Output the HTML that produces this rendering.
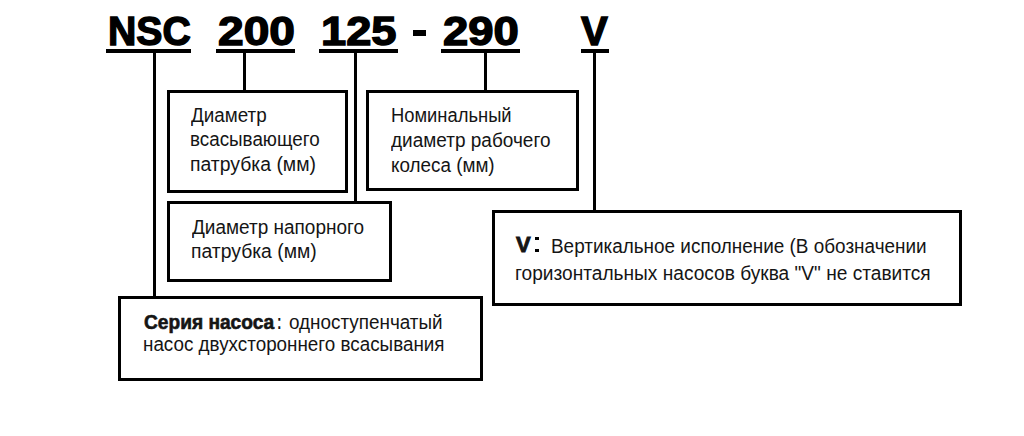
<!DOCTYPE html>
<html><head><meta charset="utf-8"><style>
html,body{margin:0;padding:0;background:#fff;}
body{width:1024px;height:436px;position:relative;overflow:hidden;font-family:"Liberation Sans",sans-serif;}
.t{position:absolute;white-space:nowrap;transform-origin:0 0;}
.r{position:absolute;background:#000;}
.b{position:absolute;box-sizing:border-box;border:3px solid #000;}
</style></head><body>
<div class="b" style="left:167px;top:90px;width:181px;height:103px;border-width:3px"></div>
<div class="b" style="left:366px;top:90px;width:213px;height:101px;border-width:3px"></div>
<div class="b" style="left:167px;top:201px;width:225px;height:81px;border-width:3px"></div>
<div class="b" style="left:118px;top:296px;width:365px;height:85px;border-width:3px"></div>
<div class="b" style="left:492px;top:210px;width:470px;height:96px;border-width:3px"></div>
<div class="r" style="left:106px;top:49px;width:85px;height:4px"></div>
<div class="r" style="left:216px;top:49px;width:79px;height:4px"></div>
<div class="r" style="left:319px;top:49px;width:79px;height:4px"></div>
<div class="r" style="left:441px;top:49px;width:79px;height:4px"></div>
<div class="r" style="left:581px;top:49px;width:28px;height:4px"></div>
<div class="r" style="left:153px;top:53px;width:3px;height:244px"></div>
<div class="r" style="left:243px;top:53px;width:3px;height:38px"></div>
<div class="r" style="left:354px;top:53px;width:3px;height:149px"></div>
<div class="r" style="left:484px;top:53px;width:3px;height:38px"></div>
<div class="r" style="left:593px;top:53px;width:3px;height:158px"></div>
<div class="r" style="left:534.5px;top:236.5px;width:4px;height:3.5px"></div>
<div class="r" style="left:534.5px;top:248.5px;width:4px;height:3.5px"></div>
<div class="r" style="left:413px;top:30px;width:13px;height:6px"></div>
<div id="t1" class="t" style="left:107.60px;top:12.09px;font-size:40.3px;line-height:40.3px;font-weight:700;color:#000;transform:scaleX(0.9728);letter-spacing:0px;-webkit-text-stroke:1.4px #000">NSC</div>
<div id="t2" class="t" style="left:218.00px;top:12.09px;font-size:40.3px;line-height:40.3px;font-weight:700;color:#000;transform:scaleX(1.1458);letter-spacing:0px;-webkit-text-stroke:1.4px #000">200</div>
<div id="t3" class="t" style="left:321.20px;top:12.09px;font-size:40.3px;line-height:40.3px;font-weight:700;color:#000;transform:scaleX(1.1235);letter-spacing:0px;-webkit-text-stroke:1.4px #000">125</div>
<div id="t5" class="t" style="left:442.80px;top:12.09px;font-size:40.3px;line-height:40.3px;font-weight:700;color:#000;transform:scaleX(1.1292);letter-spacing:0px;-webkit-text-stroke:1.4px #000">290</div>
<div id="t6" class="t" style="left:581.40px;top:12.09px;font-size:40.3px;line-height:40.3px;font-weight:700;color:#000;transform:scaleX(0.996);letter-spacing:0px;-webkit-text-stroke:1.4px #000">V</div>
<div id="b1l1" class="t" style="left:191.00px;top:104.57px;font-size:20px;line-height:20px;font-weight:400;color:#151515;transform:scaleX(0.9427);letter-spacing:0px;-webkit-text-stroke:0px #151515">Диаметр</div>
<div id="b1l2" class="t" style="left:190.00px;top:129.47px;font-size:20px;line-height:20px;font-weight:400;color:#151515;transform:scaleX(0.9411);letter-spacing:0px;-webkit-text-stroke:0px #151515">всасывающего</div>
<div id="b1l3" class="t" style="left:190.00px;top:153.87px;font-size:20px;line-height:20px;font-weight:400;color:#151515;transform:scaleX(0.9695);letter-spacing:0px;-webkit-text-stroke:0px #151515">патрубка (мм)</div>
<div id="b2l1" class="t" style="left:391.00px;top:104.77px;font-size:20px;line-height:20px;font-weight:400;color:#151515;transform:scaleX(0.9184);letter-spacing:0px;-webkit-text-stroke:0px #151515">Номинальный</div>
<div id="b2l2" class="t" style="left:390.60px;top:130.07px;font-size:20px;line-height:20px;font-weight:400;color:#151515;transform:scaleX(0.9497);letter-spacing:0px;-webkit-text-stroke:0px #151515">диаметр рабочего</div>
<div id="b2l3" class="t" style="left:391.00px;top:154.57px;font-size:20px;line-height:20px;font-weight:400;color:#151515;transform:scaleX(0.9427);letter-spacing:0px;-webkit-text-stroke:0px #151515">колеса (мм)</div>
<div id="b3l1" class="t" style="left:192.00px;top:216.57px;font-size:20px;line-height:20px;font-weight:400;color:#151515;transform:scaleX(0.9494);letter-spacing:0px;-webkit-text-stroke:0px #151515">Диаметр напорного</div>
<div id="b3l2" class="t" style="left:191.00px;top:241.37px;font-size:20px;line-height:20px;font-weight:400;color:#151515;transform:scaleX(0.968);letter-spacing:0px;-webkit-text-stroke:0px #151515">патрубка (мм)</div>
<div id="b4a" class="t" style="left:143.80px;top:311.77px;font-size:20px;line-height:20px;font-weight:700;color:#151515;transform:scaleX(0.9566);letter-spacing:0px;-webkit-text-stroke:0.6px #151515">Серия насоса</div>
<div id="b4c" class="t" style="left:276.80px;top:311.77px;font-size:20px;line-height:20px;font-weight:700;color:#151515;transform:scaleX(0.6848);letter-spacing:0px;-webkit-text-stroke:0px #151515">:</div>
<div id="b4b" class="t" style="left:289.00px;top:311.77px;font-size:20px;line-height:20px;font-weight:400;color:#151515;transform:scaleX(0.9441);letter-spacing:0px;-webkit-text-stroke:0px #151515">одноступенчатый</div>
<div id="b4l2" class="t" style="left:142.80px;top:333.77px;font-size:20px;line-height:20px;font-weight:400;color:#151515;transform:scaleX(0.9416);letter-spacing:0px;-webkit-text-stroke:0px #151515">насос двухстороннего всасывания</div>
<div id="b5v" class="t" style="left:516.40px;top:234.50px;font-size:21.5px;line-height:21.5px;font-weight:700;color:#151515;transform:scaleX(1.0218);letter-spacing:0px;-webkit-text-stroke:0.9px #151515">V</div>
<div id="b5l1" class="t" style="left:550.60px;top:235.77px;font-size:20px;line-height:20px;font-weight:400;color:#151515;transform:scaleX(0.9461);letter-spacing:0px;-webkit-text-stroke:0px #151515">Вертикальное исполнение (В обозначении</div>
<div id="b5l2" class="t" style="left:515.40px;top:262.57px;font-size:20px;line-height:20px;font-weight:400;color:#151515;transform:scaleX(0.956);letter-spacing:0px;-webkit-text-stroke:0px #151515">горизонтальных насосов буква "V" не ставится</div>
</body></html>
